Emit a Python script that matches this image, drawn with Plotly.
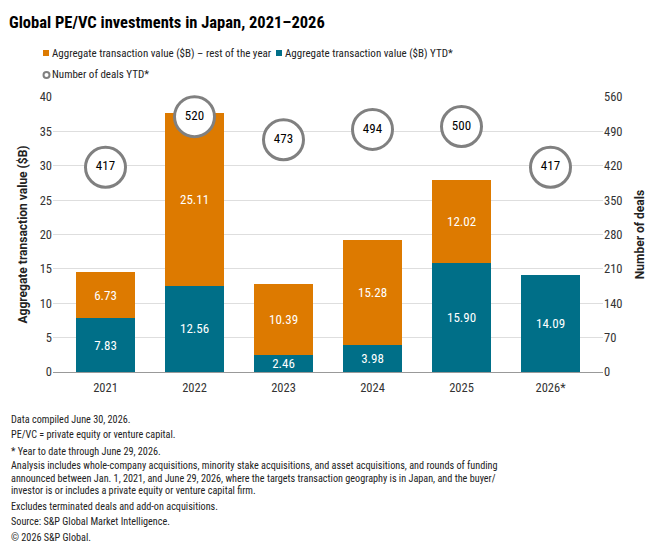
import plotly.graph_objects as go

years = ["2021", "2022", "2023", "2024", "2025", "2026*"]
value_ytd = [7.83, 12.56, 2.46, 3.98, 15.90, 14.09]
value_rest = [6.73, 25.11, 10.39, 15.28, 12.02, None]
deals_ytd = [417, 520, 473, 494, 500, 417]

legend_labels = ["Aggregate transaction value ($B) – rest of the year",
                 "Aggregate transaction value ($B) YTD*",
                 "Number of deals YTD*"]

ORANGE = "#dd7a00"
TEAL = "#006f88"
GREY = "#808080"
FONT = "Roboto Condensed, Roboto, Arial, sans-serif"
WIDE = "Roboto, Arial, sans-serif"

# plot area in pixels
L, T, W, H = 53, 97, 550, 275
def px(x):
    return (x - L) / W
def py(y):
    return 1 - (y - T) / H

fig = go.Figure()

fig.add_trace(go.Bar(
    x=years, y=value_ytd, name=legend_labels[1],
    marker=dict(color=TEAL, line=dict(width=0)),
    text=[f"{v:.2f}" for v in value_ytd], textposition="inside",
    insidetextanchor="middle", textfont=dict(color="white", size=13, family=FONT),
    showlegend=False, hoverinfo="skip",
))
fig.add_trace(go.Bar(
    x=years, y=value_rest, name=legend_labels[0],
    marker=dict(color=ORANGE, line=dict(width=0)),
    text=[f"{v:.2f}" if v is not None else "" for v in value_rest], textposition="inside",
    insidetextanchor="middle", textfont=dict(color="white", size=13, family=FONT),
    showlegend=False, hoverinfo="skip",
))
fig.add_trace(go.Scatter(
    x=years, y=deals_ytd, yaxis="y2", mode="markers+text", name=legend_labels[2],
    marker=dict(size=40, color="white", line=dict(color=GREY, width=3)),
    text=[str(v) for v in deals_ytd], textposition="middle center",
    textfont=dict(color="black", size=13, family=FONT),
    showlegend=False, hoverinfo="skip", cliponaxis=False,
))

notes = [
    "Data compiled June 30, 2026.",
    "PE/VC = private equity or venture capital.",
    "* Year to date through June 29, 2026.",
    "Analysis includes whole-company acquisitions, minority stake acquisitions, and asset acquisitions, and rounds of funding",
    "announced between Jan. 1, 2021, and June 29, 2026, where the targets transaction geography is in Japan, and the buyer/",
    "investor is or includes a private equity or venture capital firm.",
    "Excludes terminated deals and add-on acquisitions.",
    "Source: S&P Global Market Intelligence.",
    "© 2026 S&P Global.",
]
ypos = [419, 434, 451, 465, 478, 490, 506, 521, 537]
anns = []
for t, yp in zip(notes, ypos):
    anns.append(dict(
        text=t, xref="paper", yref="paper", x=px(9),
        y=py(yp), yanchor="middle", xanchor="left", showarrow=False,
        align="left", font=dict(size=10.2, color="#222", family=FONT),
    ))

# legend (drawn manually to match compact symbol layout)
leg_items = [(43, 53, ORANGE, "square", legend_labels[0]),
             (276, 53, TEAL, "square", legend_labels[1]),
             (43, 75, GREY, "circle", legend_labels[2])]
shapes = []
for x0, yc, col, kind, lab in leg_items:
    if kind == "square":
        shapes.append(dict(type="rect", xref="paper", yref="paper",
                           x0=px(x0), x1=px(x0 + 6), y0=py(yc + 3), y1=py(yc - 3),
                           fillcolor=col, line=dict(width=0)))
    else:
        shapes.append(dict(type="circle", xref="paper", yref="paper",
                           x0=px(x0 + 0.5), x1=px(x0 + 6.5), y0=py(yc + 3), y1=py(yc - 3),
                           fillcolor="white", line=dict(color=col, width=2)))
    anns.append(dict(text=lab, xref="paper", yref="paper", x=px(x0 + 7), y=py(yc),
                     xanchor="left", yanchor="middle", showarrow=False,
                     font=dict(size=11, color="#222", family=FONT)))

fig.update_layout(
    width=660, height=553,
    margin=dict(l=L, r=660 - L - W, t=T, b=553 - T - H),
    paper_bgcolor="white", plot_bgcolor="white",
    barmode="stack", bargap=0.33, showlegend=False,
    font=dict(family=FONT, size=12, color="#333"),
    uniformtext=dict(minsize=12, mode="show"),
    title=dict(text="<b>Global PE/VC investments in Japan, 2021–2026</b>",
               x=9/660, xanchor="left", y=1 - 22/553, yanchor="middle",
               font=dict(size=16.5, color="black", family=FONT)),
    xaxis=dict(showline=True, linecolor="#999", linewidth=1, ticks="",
               tickfont=dict(size=12.5, color="#333"), showgrid=False,
               ticklabelstandoff=4),
    yaxis=dict(range=[0, 40], dtick=5, showgrid=True, gridcolor="#dedede", gridwidth=1,
               zeroline=False, ticks="", tickfont=dict(size=12.5, color="#333"),
               title=dict(text="<b>Aggregate transaction value ($B)</b>", standoff=9,
                          font=dict(size=12, color="#222", family=WIDE))),
    yaxis2=dict(range=[0, 560], dtick=70, overlaying="y", side="right", showgrid=False,
                zeroline=False, ticks="", tickfont=dict(size=12.5, color="#333"),
                title=dict(text="<b>Number of deals</b>", standoff=14,
                           font=dict(size=12, color="#222", family=WIDE))),
    annotations=anns,
    shapes=shapes,
)

fig.write_html("out.html")
